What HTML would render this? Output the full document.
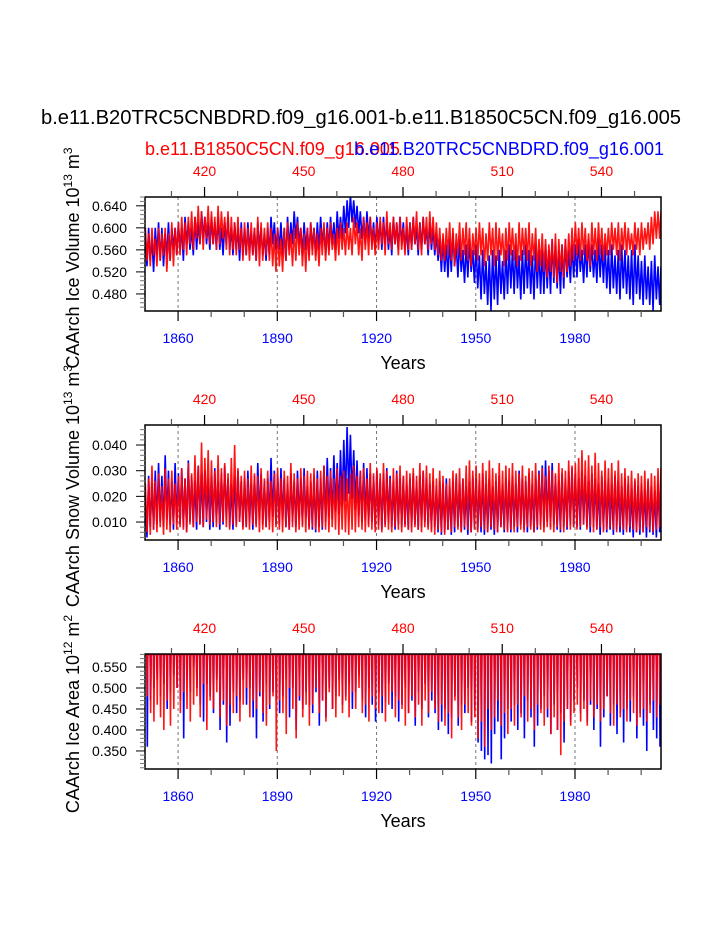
<!DOCTYPE html>
<html><head><meta charset="utf-8"><style>
html,body{margin:0;padding:0;background:#fff;}
svg{display:block;font-family:"Liberation Sans",Arial,sans-serif;}
</style></head><body>
<svg id="chart" width="723" height="935" viewBox="0 0 723 935" xmlns="http://www.w3.org/2000/svg">
<text x="361" y="124" font-size="20.2" text-anchor="middle" fill="#000">b.e11.B20TRC5CNBDRD.f09_g16.001-b.e11.B1850C5CN.f09_g16.005</text>
<text x="145" y="155" font-size="18" fill="#ff0000">b.e11.B1850C5CN.f09_g16.005</text>
<text x="664" y="155" font-size="18" fill="#0000ff" text-anchor="end">b.e11.B20TRC5CNBDRD.f09_g16.001</text>
</svg>
<script>
// ---- data: annual seasonal max / min per series, years 1850..2005 ----
const startYear = 1850;
const topAxisOffset = 1448;
const bottomTickLabels = [1860, 1890, 1920, 1950, 1980];
const topTickLabels = [420, 450, 480, 510, 540];
const volTicks = [0.480, 0.520, 0.560, 0.600, 0.640];
const snowTicks = [0.010, 0.020, 0.030, 0.040];
const areaTicks = [0.350, 0.400, 0.450, 0.500, 0.550];

const volMaxBlue = [.59,.60,.58,.60,.61,.60,.59,.61,.60,.60,.61,.60,.62,.61,.60,.62,.61,.63,.62,.61,.62,.61,.62,.60,.61,.62,.60,.61,.60,.61,.60,.61,.59,.60,.61,.60,.59,.60,.62,.61,.60,.61,.60,.62,.61,.63,.62,.60,.61,.60,.61,.60,.61,.62,.60,.61,.62,.61,.63,.62,.64,.65,.66,.65,.64,.63,.62,.63,.62,.61,.62,.61,.62,.61,.60,.62,.61,.62,.61,.60,.61,.62,.60,.61,.62,.60,.61,.60,.59,.58,.58,.57,.58,.59,.57,.58,.56,.57,.58,.56,.57,.55,.56,.54,.55,.56,.55,.56,.54,.56,.57,.56,.57,.55,.56,.57,.56,.55,.57,.56,.56,.57,.56,.58,.57,.56,.57,.58,.56,.57,.57,.58,.56,.57,.58,.57,.56,.58,.57,.57,.56,.57,.55,.56,.57,.56,.55,.56,.57,.55,.54,.55,.53,.54,.55,.53];
const volMinBlue = [.53,.54,.52,.55,.54,.53,.55,.54,.56,.55,.56,.54,.57,.56,.55,.56,.57,.58,.57,.56,.57,.56,.56,.55,.57,.56,.55,.56,.54,.55,.55,.56,.55,.54,.56,.55,.54,.55,.57,.56,.56,.55,.54,.56,.57,.58,.57,.55,.56,.55,.56,.55,.56,.57,.55,.56,.57,.56,.58,.58,.59,.60,.61,.60,.59,.58,.57,.58,.57,.56,.57,.56,.57,.56,.55,.57,.56,.57,.56,.55,.56,.57,.55,.56,.57,.55,.56,.55,.54,.52,.52,.51,.52,.53,.51,.52,.50,.51,.52,.50,.49,.47,.48,.46,.45,.47,.46,.48,.47,.48,.49,.48,.49,.47,.48,.49,.48,.47,.49,.48,.48,.49,.48,.50,.49,.48,.49,.51,.50,.51,.51,.52,.50,.51,.52,.51,.50,.51,.50,.49,.48,.49,.48,.47,.49,.48,.47,.46,.48,.47,.46,.47,.46,.45,.47,.46];
const volMaxRed = [.60,.59,.60,.58,.60,.59,.60,.59,.61,.60,.61,.62,.61,.62,.63,.62,.64,.63,.62,.64,.63,.62,.64,.63,.62,.63,.62,.61,.62,.60,.61,.60,.61,.60,.62,.61,.60,.61,.60,.59,.60,.58,.60,.61,.59,.60,.61,.60,.59,.60,.61,.60,.59,.60,.61,.60,.61,.59,.60,.61,.60,.61,.60,.62,.61,.60,.62,.61,.62,.60,.61,.62,.61,.63,.61,.62,.61,.62,.60,.62,.61,.62,.63,.61,.62,.62,.63,.62,.61,.60,.59,.60,.61,.60,.59,.61,.60,.61,.60,.59,.60,.61,.60,.59,.61,.60,.61,.60,.59,.60,.61,.60,.59,.61,.60,.60,.61,.59,.60,.58,.59,.58,.57,.58,.59,.58,.57,.58,.59,.60,.61,.60,.61,.60,.59,.61,.60,.61,.60,.59,.60,.61,.60,.61,.60,.61,.60,.59,.61,.60,.61,.60,.61,.62,.63,.63];
const volMinRed = [.54,.53,.55,.53,.54,.55,.52,.54,.53,.55,.55,.56,.55,.57,.56,.58,.57,.56,.58,.57,.57,.56,.57,.58,.56,.55,.56,.55,.56,.54,.55,.54,.55,.54,.53,.54,.55,.54,.53,.52,.53,.52,.54,.55,.53,.54,.55,.53,.52,.54,.55,.54,.53,.55,.54,.55,.56,.54,.55,.56,.55,.56,.55,.57,.55,.54,.56,.55,.56,.55,.56,.57,.55,.57,.56,.57,.55,.56,.55,.56,.56,.57,.56,.55,.57,.56,.57,.56,.55,.54,.54,.55,.54,.53,.55,.54,.55,.54,.53,.55,.54,.55,.53,.54,.55,.53,.54,.55,.53,.54,.55,.54,.53,.54,.55,.54,.53,.54,.52,.53,.52,.51,.52,.51,.50,.52,.51,.52,.53,.54,.55,.54,.55,.54,.53,.55,.54,.55,.54,.55,.55,.56,.55,.54,.56,.55,.56,.55,.56,.55,.56,.57,.56,.57,.58,.58];

const snowMaxBlue = [.020,.028,.025,.030,.033,.028,.036,.030,.026,.033,.029,.031,.027,.034,.028,.026,.032,.029,.030,.027,.028,.031,.026,.029,.032,.027,.025,.028,.030,.026,.027,.030,.025,.028,.033,.029,.026,.027,.035,.030,.028,.031,.027,.025,.029,.026,.030,.027,.031,.024,.026,.028,.030,.027,.032,.035,.031,.036,.033,.038,.042,.047,.044,.038,.034,.030,.033,.031,.029,.028,.030,.027,.029,.031,.028,.026,.030,.027,.028,.025,.027,.029,.026,.028,.030,.027,.025,.026,.024,.026,.025,.027,.024,.026,.028,.025,.027,.024,.026,.028,.027,.026,.029,.025,.027,.024,.026,.028,.025,.027,.026,.028,.025,.030,.027,.026,.029,.025,.028,.030,.032,.034,.030,.033,.028,.026,.029,.027,.030,.031,.029,.027,.030,.028,.026,.029,.027,.025,.028,.026,.027,.025,.028,.026,.024,.027,.025,.023,.026,.024,.025,.023,.026,.024,.022,.025];
const snowMinBlue = [.004,.008,.007,.009,.010,.008,.011,.009,.007,.010,.009,.008,.006,.010,.008,.007,.009,.008,.010,.007,.008,.010,.007,.009,.011,.008,.007,.009,.010,.008,.008,.010,.007,.009,.011,.009,.008,.010,.012,.009,.009,.011,.008,.007,.010,.008,.011,.009,.012,.008,.007,.006,.008,.007,.010,.012,.011,.014,.013,.016,.018,.021,.019,.015,.012,.010,.011,.009,.010,.008,.009,.007,.009,.010,.008,.007,.009,.008,.009,.007,.008,.009,.007,.008,.010,.008,.007,.008,.006,.005,.006,.007,.005,.006,.008,.006,.007,.005,.006,.008,.007,.006,.005,.006,.007,.005,.006,.008,.006,.007,.006,.008,.006,.009,.007,.006,.008,.006,.007,.009,.008,.010,.008,.009,.007,.006,.008,.007,.009,.008,.008,.007,.009,.008,.006,.008,.007,.005,.007,.006,.007,.005,.007,.006,.005,.007,.006,.004,.006,.005,.006,.004,.006,.005,.004,.006];
const snowMaxRed = [.025,.027,.032,.026,.029,.024,.031,.027,.030,.025,.028,.031,.027,.033,.029,.036,.032,.041,.035,.038,.034,.030,.036,.031,.033,.029,.035,.040,.031,.028,.030,.027,.032,.029,.028,.031,.027,.030,.026,.029,.031,.027,.030,.028,.033,.029,.027,.031,.028,.030,.029,.031,.027,.030,.032,.028,.030,.027,.031,.028,.030,.027,.029,.032,.028,.030,.031,.027,.033,.029,.031,.029,.033,.030,.027,.031,.029,.032,.028,.030,.029,.031,.028,.033,.030,.032,.029,.031,.027,.030,.028,.025,.027,.030,.029,.031,.027,.032,.034,.030,.032,.029,.033,.030,.034,.031,.029,.033,.030,.032,.031,.033,.030,.029,.032,.028,.031,.030,.033,.029,.031,.028,.032,.030,.029,.033,.031,.030,.034,.032,.033,.035,.038,.034,.036,.032,.037,.033,.030,.034,.031,.033,.030,.034,.029,.031,.028,.030,.027,.029,.028,.030,.027,.029,.028,.031];
const snowMinRed = [.006,.005,.007,.006,.008,.005,.007,.006,.009,.007,.008,.007,.006,.009,.008,.010,.009,.008,.011,.009,.010,.008,.009,.010,.008,.007,.009,.008,.010,.007,.008,.007,.009,.008,.006,.007,.008,.007,.006,.008,.007,.006,.008,.007,.008,.006,.007,.008,.006,.007,.008,.007,.006,.008,.007,.006,.008,.007,.005,.007,.006,.005,.007,.006,.008,.007,.006,.008,.007,.006,.007,.006,.008,.007,.006,.008,.007,.006,.008,.007,.006,.008,.007,.006,.008,.007,.006,.005,.007,.006,.005,.007,.006,.008,.007,.006,.008,.007,.006,.007,.006,.008,.007,.006,.008,.007,.006,.008,.007,.006,.007,.006,.008,.007,.006,.008,.007,.006,.008,.007,.006,.008,.007,.006,.008,.007,.006,.008,.007,.008,.007,.008,.009,.007,.008,.006,.007,.008,.006,.007,.008,.007,.006,.008,.007,.006,.008,.007,.006,.007,.006,.008,.007,.006,.007,.008];

const areaMaxBlue = [.58,.58,.58,.58,.58,.58,.58,.58,.58,.58,.58,.58,.58,.58,.58,.58,.58,.58,.58,.58,.58,.58,.58,.58,.58,.58,.58,.58,.58,.58,.58,.58,.58,.58,.58,.58,.58,.58,.58,.58,.58,.58,.58,.58,.58,.58,.58,.58,.58,.58,.58,.58,.58,.58,.58,.58,.58,.58,.58,.58,.58,.58,.58,.58,.58,.58,.58,.58,.58,.58,.58,.58,.58,.58,.58,.58,.58,.58,.58,.58,.58,.58,.58,.58,.58,.58,.58,.58,.58,.58,.58,.58,.58,.58,.58,.58,.58,.58,.58,.58,.58,.58,.58,.58,.58,.58,.58,.58,.58,.58,.58,.58,.58,.58,.58,.58,.58,.58,.58,.58,.58,.58,.58,.58,.58,.58,.58,.58,.58,.58,.58,.58,.58,.58,.58,.58,.58,.58,.58,.58,.58,.58,.58,.58,.58,.58,.58,.58,.58,.58,.58,.58,.58,.58,.58,.58];
const areaMinBlue = [.36,.47,.50,.52,.48,.51,.45,.49,.53,.50,.47,.38,.52,.49,.55,.50,.46,.42,.51,.48,.44,.52,.40,.46,.37,.41,.49,.44,.47,.52,.46,.50,.43,.38,.48,.42,.51,.45,.49,.47,.44,.48,.52,.43,.50,.40,.47,.45,.49,.46,.44,.49,.41,.47,.43,.50,.45,.48,.52,.46,.48,.51,.45,.49,.53,.47,.43,.50,.46,.42,.49,.44,.47,.51,.45,.48,.42,.46,.50,.44,.47,.41,.49,.45,.51,.43,.47,.44,.40,.42,.45,.39,.43,.48,.41,.46,.44,.50,.42,.45,.37,.35,.33,.34,.32,.39,.42,.33,.38,.45,.42,.46,.40,.44,.38,.47,.43,.36,.41,.45,.48,.43,.39,.46,.40,.44,.37,.45,.42,.47,.50,.44,.47,.42,.46,.40,.45,.36,.43,.48,.41,.46,.39,.44,.37,.45,.42,.48,.38,.44,.41,.35,.46,.40,.38,.36];
const areaMaxRed = [.58,.58,.58,.58,.58,.58,.58,.58,.58,.58,.58,.58,.58,.58,.58,.58,.58,.58,.58,.58,.58,.58,.58,.58,.58,.58,.58,.58,.58,.58,.58,.58,.58,.58,.58,.58,.58,.58,.58,.58,.58,.58,.58,.58,.58,.58,.58,.58,.58,.58,.58,.58,.58,.58,.58,.58,.58,.58,.58,.58,.58,.58,.58,.58,.58,.58,.58,.58,.58,.58,.58,.58,.58,.58,.58,.58,.58,.58,.58,.58,.58,.58,.58,.58,.58,.58,.58,.58,.58,.58,.58,.58,.58,.58,.58,.58,.58,.58,.58,.58,.58,.58,.58,.58,.58,.58,.58,.58,.58,.58,.58,.58,.58,.58,.58,.58,.58,.58,.58,.58,.58,.58,.58,.58,.58,.58,.58,.58,.58,.58,.58,.58,.58,.58,.58,.58,.58,.58,.58,.58,.58,.58,.58,.58,.58,.58,.58,.58,.58,.58,.58,.58,.58,.58,.58,.58];
const areaMinRed = [.48,.44,.42,.46,.43,.40,.47,.41,.45,.50,.44,.49,.45,.42,.46,.48,.43,.51,.40,.47,.45,.49,.43,.47,.41,.46,.44,.48,.42,.46,.50,.43,.47,.45,.49,.44,.41,.46,.48,.35,.47,.44,.39,.50,.45,.38,.48,.43,.46,.41,.46,.50,.44,.47,.42,.49,.45,.43,.48,.44,.47,.43,.49,.45,.50,.44,.46,.42,.48,.45,.44,.48,.42,.46,.49,.43,.47,.45,.41,.44,.48,.43,.46,.41,.47,.44,.49,.45,.42,.46,.41,.44,.38,.47,.43,.40,.46,.44,.41,.43,.38,.42,.36,.45,.40,.43,.47,.41,.44,.39,.45,.41,.46,.43,.48,.42,.45,.40,.46,.44,.41,.45,.39,.43,.40,.34,.42,.45,.41,.44,.46,.42,.45,.41,.47,.43,.46,.42,.45,.48,.44,.41,.46,.43,.45,.42,.47,.44,.41,.43,.45,.42,.44,.47,.43,.46];

// ---- layout ----
const NS = "http://www.w3.org/2000/svg";
const svg = document.getElementById('chart');
const X0 = 145, X1 = 661, T0 = 1850, T1 = 2006;
function xScale(t){ return X0 + (t - T0) * (X1 - X0) / (T1 - T0); }
function mk(tag, attrs, parent){
  const e = document.createElementNS(NS, tag);
  for (const k in attrs) e.setAttribute(k, attrs[k]);
  (parent || svg).appendChild(e);
  return e;
}

const panels = [
  {key:'ice-volume', top:197, bottom:311, vmin:0.449, vmax:0.656, ticks:volTicks, minor:0.008, fmt:3,
   title:'CAArch Ice Volume 10', exp:'13', unit:'m', uexp:'3', titleY:258,
   blueMax:volMaxBlue, blueMin:volMinBlue, redMax:volMaxRed, redMin:volMinRed, shape:'zig'},
  {key:'snow-volume', top:425, bottom:540, vmin:0.0030, vmax:0.0478, ticks:snowTicks, minor:0.002, fmt:3,
   title:'CAArch Snow Volume 10', exp:'13', unit:'m', uexp:'3', titleY:486,
   blueMax:snowMaxBlue, blueMin:snowMinBlue, redMax:snowMaxRed, redMin:snowMinRed, shape:'zig'},
  {key:'ice-area', top:654, bottom:769, vmin:0.307, vmax:0.581, ticks:areaTicks, minor:0.01, fmt:3,
   title:'CAArch Ice Area 10', exp:'12', unit:'m', uexp:'2', titleY:714,
   blueMax:areaMaxBlue, blueMin:areaMinBlue, redMax:areaMaxRed, redMin:areaMinRed, shape:'dip'}
];

panels.forEach((p, pi) => {
  const yScale = v => p.bottom - (v - p.vmin) * (p.bottom - p.top) / (p.vmax - p.vmin);
  const g = mk('g', {});
  
  
  const clipId = 'clip' + pi;
  const cp = mk('clipPath', {id: clipId}, g);
  mk('rect', {x:X0, y:p.top, width:X1-X0, height:p.bottom-p.top}, cp);

  bottomTickLabels.forEach(yr => {
    const l = mk('line', {x1:xScale(yr), x2:xScale(yr), y1:p.top, y2:p.bottom, stroke:'#777', 'stroke-width':1, 'stroke-dasharray':'3,3'}, g);
    
    
  });

  function seriesPath(maxArr, minArr){
    let d = '';
    for (let i = 0; i < maxArr.length; i++){
      const t = startYear + i;
      let pts;
      if (p.shape === 'zig'){
        pts = [[t + 0.1, maxArr[i]], [t + 0.6, minArr[i]]];
      } else {
        pts = [[t, maxArr[i]], [t + 0.55, maxArr[i]], [t + 0.7, minArr[i]], [t + 0.85, maxArr[i]]];
      }
      pts.forEach((pt, j) => { d += ((i === 0 && j === 0) ? 'M' : 'L') + xScale(pt[0]).toFixed(2) + ',' + yScale(pt[1]).toFixed(2); });
    }
    if (p.shape === 'zig') d += 'L' + xScale(T1).toFixed(2) + ',' + yScale(maxArr[maxArr.length-1]).toFixed(2);
    return d;
  }
  const blue = mk('path', {d: seriesPath(p.blueMax, p.blueMin), fill:'none', stroke:'#0000ff', 'stroke-width':1.6, 'clip-path':'url(#'+clipId+')'}, g);
  
  
  const red = mk('path', {d: seriesPath(p.redMax, p.redMin), fill:'none', stroke:'#ff0000', 'stroke-width':1.6, 'stroke-opacity':0.92, 'clip-path':'url(#'+clipId+')'}, g);
  
  

  const fr = mk('rect', {x:X0, y:p.top, width:X1-X0, height:p.bottom-p.top, fill:'none', stroke:'#000', 'stroke-width':1.5}, g);
  
  

  for (let yr = 1860; yr <= 2000; yr += 10){
    const major = (yr - 1860) % 30 === 0;
    mk('line', {x1:xScale(yr), x2:xScale(yr), y1:p.bottom, y2:p.bottom + (major ? 10 : 6), stroke: major ? '#000' : '#555', 'stroke-width':1.2}, g);
  }
  bottomTickLabels.forEach(yr => {
    const t = mk('text', {x:xScale(yr), y:p.bottom + 32, 'font-size':14, 'text-anchor':'middle', fill:'#0000ff'}, g);
    t.textContent = yr;
    
    
  });
  const xt = mk('text', {x:403, y:p.bottom + 58, 'font-size':18, 'text-anchor':'middle', fill:'#000'}, g);
  xt.textContent = 'Years';
  
  

  for (let v = 410; v <= 550; v += 10){
    const major = (v - 420) % 30 === 0;
    const xx = xScale(v + topAxisOffset);
    if (xx < X0 || xx > X1) continue;
    mk('line', {x1:xx, x2:xx, y1:p.top, y2:p.top - (major ? 10 : 6), stroke: major ? '#000' : '#555', 'stroke-width':1.2}, g);
  }
  topTickLabels.forEach(v => {
    const t = mk('text', {x:xScale(v + topAxisOffset), y:p.top - 21, 'font-size':14, 'text-anchor':'middle', fill:'#ff0000'}, g);
    t.textContent = v;
    
    
  });

  const lo = p.ticks[0], step = p.ticks[1] - p.ticks[0];
  for (let v = lo - 10 * p.minor; v <= p.vmax + 1e-9; v += p.minor){
    if (v < p.vmin) continue;
    const yy = yScale(v);
    const isMajor = Math.abs(((v - lo) / step) - Math.round((v - lo) / step)) < 1e-6;
    mk('line', {x1:X0, x2:X0 - (isMajor ? 9 : 5), y1:yy, y2:yy, stroke: isMajor ? '#000' : '#777', 'stroke-width':1}, g);
  }
  p.ticks.forEach(v => {
    const t = mk('text', {x:X0 - 18, y:yScale(v) + 5, 'font-size':14, 'text-anchor':'end', fill:'#000'}, g);
    t.textContent = v.toFixed(p.fmt);
    
    
  });

  const yt = mk('text', {x:0, y:0, 'font-size':18, 'text-anchor':'middle', fill:'#000', transform:'translate(79,' + p.titleY + ') rotate(-90)'}, g);
  
  
  const s1 = mk('tspan', {}, yt); s1.textContent = p.title;
  const s2 = mk('tspan', {dy:-7, 'font-size':12}, yt); s2.textContent = p.exp;
  const s3 = mk('tspan', {dy:7}, yt); s3.textContent = ' ' + p.unit;
  const s4 = mk('tspan', {dy:-7, 'font-size':12}, yt); s4.textContent = p.uexp;
});
</script>
</body></html>
